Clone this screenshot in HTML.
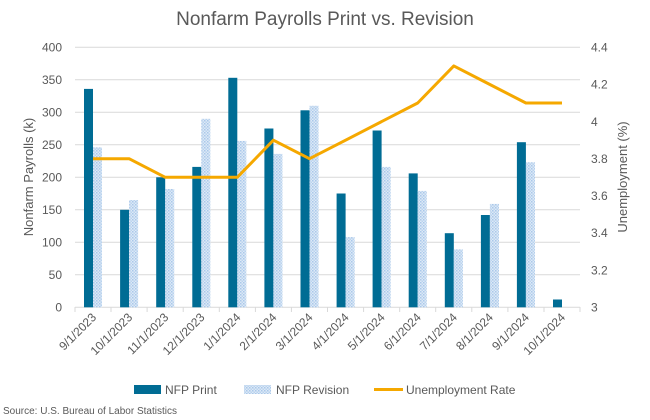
<!DOCTYPE html>
<html><head><meta charset="utf-8"><style>body{margin:0;background:#fff}svg{display:block;font-family:"Liberation Sans",sans-serif}</style></head><body>
<svg width="650" height="420" viewBox="0 0 650 420">
<defs><pattern id="h" width="3" height="3" patternUnits="userSpaceOnUse"><rect width="3" height="3" fill="#dde9f6"/><rect width="1.5" height="1.5" fill="#a9c8ea"/><rect x="1.5" y="1.5" width="1.5" height="1.5" fill="#b9d3ef"/></pattern></defs>
<text x="325" y="25" text-anchor="middle" font-size="19" fill="#595959">Nonfarm Payrolls Print vs. Revision</text>
<g stroke="#d9d9d9" stroke-width="1">
<line x1="75" x2="580" y1="47.3" y2="47.3"/><line x1="75" x2="580" y1="79.8" y2="79.8"/><line x1="75" x2="580" y1="112.3" y2="112.3"/><line x1="75" x2="580" y1="144.8" y2="144.8"/><line x1="75" x2="580" y1="177.3" y2="177.3"/><line x1="75" x2="580" y1="209.8" y2="209.8"/><line x1="75" x2="580" y1="242.3" y2="242.3"/><line x1="75" x2="580" y1="274.8" y2="274.8"/><line x1="75" x2="580" y1="307.3" y2="307.3"/>
</g>
<g stroke="#d9d9d9"><line x1="75" x2="75" y1="307" y2="312"/><line x1="111" x2="111" y1="307" y2="312"/><line x1="147.1" x2="147.1" y1="307" y2="312"/><line x1="183.2" x2="183.2" y1="307" y2="312"/><line x1="219.3" x2="219.3" y1="307" y2="312"/><line x1="255.4" x2="255.4" y1="307" y2="312"/><line x1="291.4" x2="291.4" y1="307" y2="312"/><line x1="327.5" x2="327.5" y1="307" y2="312"/><line x1="363.6" x2="363.6" y1="307" y2="312"/><line x1="399.7" x2="399.7" y1="307" y2="312"/><line x1="435.7" x2="435.7" y1="307" y2="312"/><line x1="471.8" x2="471.8" y1="307" y2="312"/><line x1="507.9" x2="507.9" y1="307" y2="312"/><line x1="544" x2="544" y1="307" y2="312"/><line x1="580" x2="580" y1="307" y2="312"/></g>
<g fill="#006c94">
<rect x="84" y="88.9" width="9" height="218.4"/><rect x="120.1" y="209.8" width="9" height="97.5"/><rect x="156.2" y="177.3" width="9" height="130"/><rect x="192.3" y="166.9" width="9" height="140.4"/><rect x="228.3" y="77.8" width="9" height="229.5"/><rect x="264.4" y="128.5" width="9" height="178.8"/><rect x="300.5" y="110.3" width="9" height="197"/><rect x="336.6" y="193.5" width="9" height="113.8"/><rect x="372.6" y="130.5" width="9" height="176.8"/><rect x="408.7" y="173.4" width="9" height="133.9"/><rect x="444.8" y="233.2" width="9" height="74.1"/><rect x="480.9" y="215" width="9" height="92.3"/><rect x="516.9" y="142.2" width="9" height="165.1"/><rect x="553" y="299.5" width="9" height="7.8"/>
</g>
<g fill="url(#h)">
<rect x="93" y="147.4" width="9" height="159.9"/><rect x="129.1" y="200" width="9" height="107.3"/><rect x="165.2" y="189" width="9" height="118.3"/><rect x="201.3" y="118.8" width="9" height="188.5"/><rect x="237.3" y="140.9" width="9" height="166.4"/><rect x="273.4" y="153.9" width="9" height="153.4"/><rect x="309.5" y="105.8" width="9" height="201.5"/><rect x="345.6" y="237.1" width="9" height="70.2"/><rect x="381.6" y="166.9" width="9" height="140.4"/><rect x="417.7" y="190.9" width="9" height="116.4"/><rect x="453.8" y="249.4" width="9" height="57.9"/><rect x="489.9" y="203.9" width="9" height="103.4"/><rect x="525.9" y="162.3" width="9" height="145"/>
</g>
<polyline fill="none" stroke="#f5a800" stroke-width="3" stroke-linejoin="round" points="93,158.7 129.1,158.7 165.2,177.3 201.3,177.3 237.3,177.3 273.4,140.2 309.5,158.7 345.6,140.2 381.6,121.6 417.7,103 453.8,65.9 489.9,84.5 525.9,103 562,103"/>
<g font-size="12" fill="#595959" text-anchor="end">
<text x="62" y="51.5">400</text><text x="62" y="84">350</text><text x="62" y="116.5">300</text><text x="62" y="149">250</text><text x="62" y="181.5">200</text><text x="62" y="214">150</text><text x="62" y="246.5">100</text><text x="62" y="279">50</text><text x="62" y="311.5">0</text>
</g>
<g font-size="12" fill="#595959">
<text x="591" y="51.5">4.4</text><text x="591" y="88.6">4.2</text><text x="591" y="125.8">4</text><text x="591" y="162.9">3.8</text><text x="591" y="200">3.6</text><text x="591" y="237.2">3.4</text><text x="591" y="274.3">3.2</text><text x="591" y="311.5">3</text>
</g>
<text transform="translate(33,177) rotate(-90)" text-anchor="middle" font-size="13" fill="#595959">Nonfarm Payrolls (k)</text>
<text transform="translate(627,177) rotate(-90)" text-anchor="middle" font-size="13" fill="#595959">Unemployment (%)</text>
<g font-size="12" fill="#595959" text-anchor="end">
<text transform="translate(97,318) rotate(-45)">9/1/2023</text><text transform="translate(133.1,318) rotate(-45)">10/1/2023</text><text transform="translate(169.2,318) rotate(-45)">11/1/2023</text><text transform="translate(205.3,318) rotate(-45)">12/1/2023</text><text transform="translate(241.3,318) rotate(-45)">1/1/2024</text><text transform="translate(277.4,318) rotate(-45)">2/1/2024</text><text transform="translate(313.5,318) rotate(-45)">3/1/2024</text><text transform="translate(349.6,318) rotate(-45)">4/1/2024</text><text transform="translate(385.6,318) rotate(-45)">5/1/2024</text><text transform="translate(421.7,318) rotate(-45)">6/1/2024</text><text transform="translate(457.8,318) rotate(-45)">7/1/2024</text><text transform="translate(493.9,318) rotate(-45)">8/1/2024</text><text transform="translate(529.9,318) rotate(-45)">9/1/2024</text><text transform="translate(566,318) rotate(-45)">10/1/2024</text>
</g>
<rect x="134" y="385" width="27" height="9" fill="#006c94"/>
<text x="165" y="394" font-size="12" fill="#595959">NFP Print</text>
<rect x="244" y="385" width="27" height="9" fill="url(#h)"/>
<text x="276" y="394" font-size="12" fill="#595959">NFP Revision</text>
<line x1="374" x2="403" y1="389.5" y2="389.5" stroke="#f5a800" stroke-width="3"/>
<text x="406" y="394" font-size="12" fill="#595959">Unemployment Rate</text>
<text x="3" y="414" font-size="10" fill="#595959">Source: U.S. Bureau of Labor Statistics</text>
</svg>
</body></html>
